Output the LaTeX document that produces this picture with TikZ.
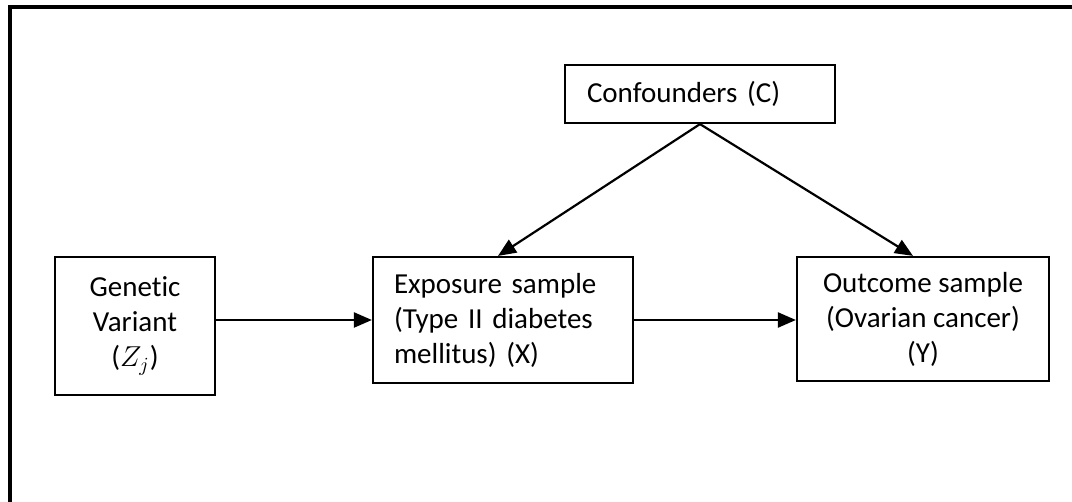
\documentclass[tikz,border=0pt]{standalone}
\usepackage{fontspec}
\setmainfont{Carlito}[Ligatures=NoCommon]
\usetikzlibrary{arrows.meta}
\begin{document}
\begin{tikzpicture}[x=0.5pt,y=-0.5pt,
    box/.style={draw,line width=1.1pt,font=\fontsize{14.5}{17.5}\selectfont,inner sep=0pt},
    arr/.style={line width=1.1pt,-{Triangle[length=9pt,width=7.5pt]}}]
      \useasboundingbox (0,0) rectangle (1072,502);
      \draw[line width=1.6pt] (10,502) -- (10,7) -- (1072,7);
      \draw
        (135,326) node[box,minimum width=80pt,minimum height=69pt,align=center] (z)
          {Genetic\\Variant\\($Z_j$)}
        (503,320) node[box,minimum width=130pt,minimum height=63pt,text width=109pt,align=left] (x)
          {Exposure sample\\(Type II diabetes\\mellitus) (X)}
        (923,319) node[box,minimum width=126pt,minimum height=62pt,align=center] (y)
          {Outcome sample\\(Ovarian cancer)\\(Y)}
        (700,94) node[box,minimum width=135pt,minimum height=29pt,text width=113pt,align=left] (c)
          {Confounders (C)};
      \begin{scope}[arr]
        \draw (x.west -| z.east) to (x.west);
        \draw (x.east) to (x.east -| y.west);
        \draw (c.south) to ([xshift=-2.5pt]x.north);
        \draw (c.south) to ([xshift=-5pt]y.north);
      \end{scope}
    \end{tikzpicture}
\end{document}
